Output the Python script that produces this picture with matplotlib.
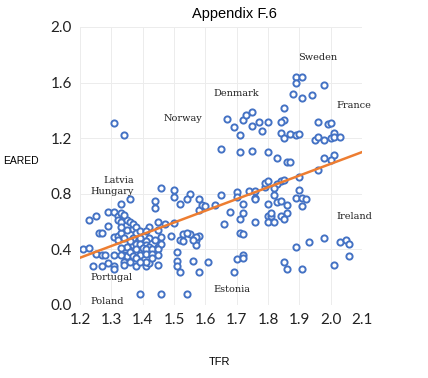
import matplotlib
matplotlib.use("Agg")
import matplotlib.pyplot as plt

# TFR (x) and EARED (y)
tfr = [1.89, 1.91, 1.89, 1.98, 1.88, 1.91, 1.94, 1.85, 1.85, 1.84,
       1.96, 1.99, 2.00, 1.84, 1.87, 1.89, 1.90, 1.85, 1.95, 1.96,
       1.98, 2.00, 2.01, 2.01, 2.03,
       1.67, 1.69, 1.71, 1.72, 1.73, 1.75, 1.75, 1.77, 1.78, 1.80,
       1.65, 1.71, 1.75, 1.80, 1.83, 1.86, 1.87, 1.98, 2.01, 2.00, 1.96,
       1.31, 1.34,
       1.58, 1.58, 1.59, 1.60, 1.63, 1.65, 1.68, 1.66, 1.70, 1.70,
       1.72, 1.72, 1.71, 1.71, 1.72, 1.74, 1.76, 1.76, 1.76, 1.76,
       1.79, 1.79, 1.80, 1.80, 1.80, 1.80, 1.81, 1.82, 1.81, 1.82,
       1.83, 1.84, 1.58, 1.57, 1.61, 1.58, 1.70, 1.72, 1.72, 1.69,
       1.85, 1.83, 1.90, 1.90, 1.89, 1.91, 1.92, 1.91, 1.84, 1.86,
       1.86, 1.84, 1.85, 1.89, 1.93, 1.98, 2.03, 2.05, 2.06, 2.06,
       2.01, 1.85, 1.86, 1.91, 1.82,
       1.46, 1.50, 1.50, 1.55, 1.54, 1.52, 1.44, 1.44, 1.33, 1.36,
       1.45, 1.42, 1.47, 1.50, 1.49, 1.53, 1.52, 1.55, 1.57, 1.57,
       1.51, 1.51, 1.51, 1.52, 1.38, 1.41, 1.42, 1.45, 1.39, 1.46,
       1.54, 1.53, 1.54, 1.56, 1.56,
       1.23, 1.25, 1.29, 1.31, 1.32, 1.33, 1.32, 1.33, 1.35, 1.36,
       1.29, 1.26, 1.27, 1.31, 1.32, 1.33, 1.35, 1.37, 1.32, 1.34,
       1.35, 1.37, 1.21, 1.23, 1.25, 1.27, 1.28, 1.31, 1.33, 1.34,
       1.35, 1.36, 1.34, 1.24, 1.27, 1.29, 1.31,
       1.34, 1.37, 1.38, 1.33, 1.38, 1.39, 1.41, 1.45, 1.46, 1.42,
       1.44, 1.41, 1.39, 1.37, 1.36, 1.38, 1.39, 1.41, 1.42, 1.45,
       1.46, 1.38, 1.40, 1.41, 1.43, 1.45, 1.33, 1.37, 1.39, 1.41,
       1.43, 1.38, 1.41, 1.36, 1.39, 1.34, 1.31, 1.43, 1.45]
eared = [1.64, 1.64, 1.60, 1.58, 1.52, 1.49, 1.51, 1.42, 1.33, 1.32,
         1.32, 1.30, 1.31, 1.24, 1.23, 1.22, 1.23, 1.20, 1.19, 1.21,
         1.19, 1.20, 1.24, 1.21, 1.21,
         1.34, 1.28, 1.22, 1.33, 1.37, 1.39, 1.29, 1.32, 1.25, 1.32,
         1.12, 1.10, 1.11, 1.10, 1.06, 1.03, 1.03, 1.06, 1.08, 1.04, 0.97,
         1.31, 1.22,
         0.76, 0.68, 0.72, 0.71, 0.72, 0.79, 0.67, 0.58, 0.81, 0.78,
         0.73, 0.66, 0.62, 0.52, 0.51, 0.82, 0.82, 0.77, 0.76, 0.60,
         0.85, 0.88, 0.89, 0.73, 0.64, 0.60, 0.64, 0.60, 0.66, 0.79,
         0.74, 0.89, 0.50, 0.47, 0.31, 0.24, 0.33, 0.36, 0.34, 0.24,
         0.90, 0.87, 0.92, 0.83, 0.77, 0.77, 0.76, 0.71, 0.75, 0.72,
         0.66, 0.64, 0.62, 0.42, 0.45, 0.48, 0.45, 0.47, 0.44, 0.35,
         0.29, 0.31, 0.26, 0.26, 0.84,
         0.84, 0.83, 0.78, 0.80, 0.76, 0.73, 0.75, 0.70, 0.73, 0.76,
         0.60, 0.56, 0.58, 0.59, 0.50, 0.51, 0.47, 0.51, 0.49, 0.43,
         0.38, 0.32, 0.28, 0.24, 0.28, 0.28, 0.30, 0.29, 0.08, 0.08,
         0.08, 0.46, 0.52, 0.47, 0.32,
         0.61, 0.64, 0.67, 0.67, 0.64, 0.66, 0.61, 0.60, 0.61, 0.60,
         0.57, 0.52, 0.52, 0.49, 0.50, 0.52, 0.54, 0.55, 0.47, 0.48,
         0.42, 0.43, 0.40, 0.41, 0.37, 0.36, 0.36, 0.36, 0.41, 0.36,
         0.35, 0.38, 0.31, 0.28, 0.28, 0.30, 0.28,
         0.65, 0.58, 0.56, 0.56, 0.52, 0.53, 0.53, 0.54, 0.49, 0.48,
         0.47, 0.46, 0.48, 0.48, 0.46, 0.44, 0.44, 0.43, 0.42, 0.42,
         0.44, 0.40, 0.41, 0.40, 0.40, 0.40, 0.36, 0.35, 0.36, 0.37,
         0.37, 0.34, 0.31, 0.31, 0.31, 0.29, 0.26, 0.34, 0.36]

# fitted line as drawn in the chart
trend_x = [1.2, 2.1]
trend_y = [0.34, 1.10]

countries = ["Sweden", "Denmark", "France", "Norway", "Latvia", "Hungary",
             "Ireland", "Portugal", "Poland", "Estonia"]
label_x = [1.897, 1.625, 2.018, 1.468, 1.373, 1.373, 2.017, 1.234, 1.234, 1.625]
label_y = [1.784, 1.518, 1.432, 1.343, 0.899, 0.815, 0.640, 0.196, 0.024, 0.108]
label_ha = ["left", "left", "left", "left", "right", "right",
            "left", "left", "left", "left"]

xticks = [1.2, 1.3, 1.4, 1.5, 1.6, 1.7, 1.8, 1.9, 2.0, 2.1]
yticks = [0.0, 0.4, 0.8, 1.2, 1.6, 2.0]

fig = plt.figure(figsize=(4.28, 3.78), dpi=100)
ax = fig.add_axes([80 / 428, 1 - 305 / 378, 282 / 428, 278 / 378])

ax.scatter(tfr, eared, s=20, facecolors="white", edgecolors="#4472C4",
           linewidths=1.4, zorder=3)
ax.plot(trend_x, trend_y, color="#ED7D31", lw=1.8, zorder=4)

for name, x, y, ha in zip(countries, label_x, label_y, label_ha):
    ax.text(x, y, name, ha=ha, va="center", fontsize=7,
            family="DejaVu Serif", color="#222222", clip_on=False, zorder=5)

ax.set_xlim(1.2, 2.1)
ax.set_ylim(0, 2.0)
ax.set_xticks(xticks)
ax.set_xticklabels(["%.1f" % v for v in xticks])
ax.set_yticks(yticks)
ax.set_yticklabels(["%.1f" % v for v in yticks])
ax.tick_params(length=0, labelsize=11, colors="#222222")
ax.tick_params(axis="x", pad=6)
ax.tick_params(axis="y", pad=6)
for lab in ax.get_xticklabels() + ax.get_yticklabels():
    lab.set_family("Lato")
ax.grid(color="#ECECEC", lw=0.7)
ax.set_axisbelow(True)
for sp in ax.spines.values():
    sp.set_visible(False)

fig.text(234 / 428, 1 - 14 / 378, "Appendix F.6", ha="center", va="center",
         fontsize=10.5, family="Liberation Sans")
fig.text(3 / 428, 1 - 161 / 378, "EARED", ha="left", va="center",
         fontsize=7.5, family="Liberation Sans")
fig.text(220 / 428, 1 - 362 / 378, "TFR", ha="center", va="center",
         fontsize=8, family="Liberation Sans")

fig.savefig("out.png", dpi=100)
